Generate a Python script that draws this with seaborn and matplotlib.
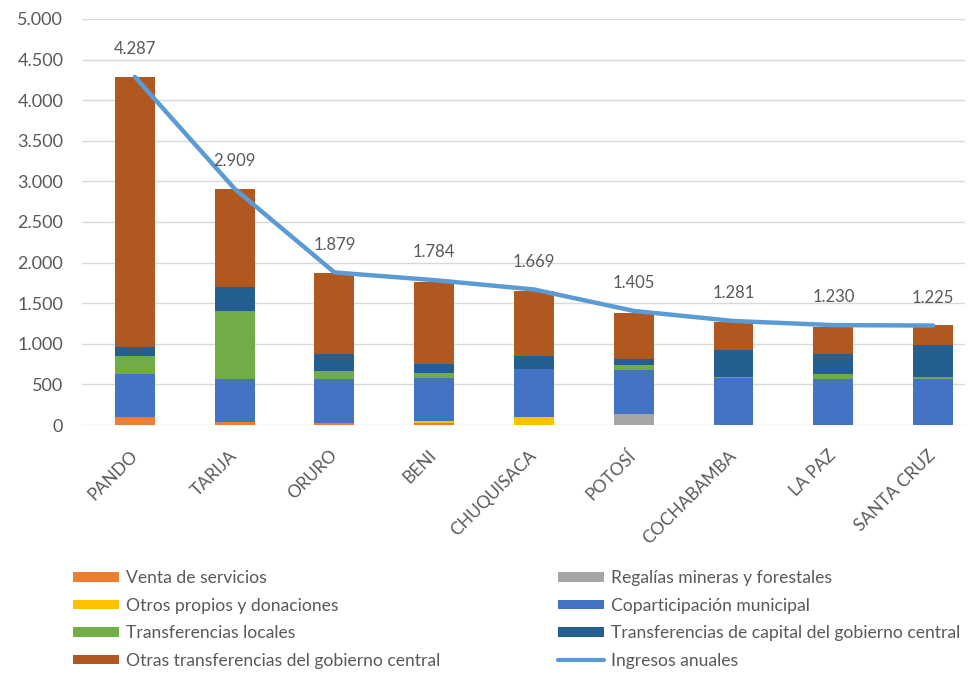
import numpy as np
import matplotlib
matplotlib.use("Agg")
import matplotlib.pyplot as plt
import seaborn as sns
from matplotlib.patches import Patch
from matplotlib.lines import Line2D
from matplotlib.ticker import FuncFormatter, MultipleLocator

# Ingresos municipales por departamento (millones de Bs)
categories = ["PANDO", "TARIJA", "ORURO", "BENI", "CHUQUISACA",
              "POTOSÍ", "COCHABAMBA", "LA PAZ", "SANTA CRUZ"]
venta_servicios = [100, 40, 30, 30, 0, 0, 0, 0, 0]
regalias = [0, 0, 0, 0, 0, 130, 0, 0, 0]
otros_propios = [0, 0, 0, 20, 100, 0, 0, 0, 0]
coparticipacion = [530, 530, 540, 526, 585, 547, 576, 564, 572]
transf_locales = [225, 840, 100, 62, 0, 62, 21, 66, 16]
transf_capital = [100, 285, 205, 115, 165, 70, 321, 242, 400]
otras_transf = [3330, 1210, 1000, 1004, 795, 576, 345, 330, 238]
ingresos_anuales = [4287, 2909, 1879, 1784, 1669, 1405, 1281, 1230, 1225]

series_names = ["Venta de servicios", "Regalías mineras y forestales",
                "Otros propios y donaciones", "Coparticipación municipal",
                "Transferencias locales",
                "Transferencias de capital del gobierno central",
                "Otras transferencias del gobierno central"]
series_values = [venta_servicios, regalias, otros_propios, coparticipacion,
                 transf_locales, transf_capital, otras_transf]
series_colors = ["#ED7D31", "#A5A5A5", "#FFC000", "#4472C4",
                 "#70AD47", "#255E91", "#B0581F"]
line_color = "#5B9BD5"
text_color = "#595959"

sns.set_theme(style="white")
plt.rcParams["font.family"] = ["Lato", "DejaVu Sans"]

fig = plt.figure(figsize=(9.74, 6.74), dpi=100)
W, H = 974, 674
ax = fig.add_axes([82 / W, 1 - 425 / H, (965 - 82) / W, (425 - 19) / H])

# stacked bars: draw cumulative totals from the top layer down
cum = np.cumsum(np.array(series_values), axis=0)
for i in range(len(series_values) - 1, -1, -1):
    sns.barplot(x=categories, y=cum[i], color=series_colors[i], width=0.4,
                saturation=1, linewidth=0, ax=ax, zorder=2)

xpos = np.arange(len(categories))
sns.lineplot(x=xpos, y=ingresos_anuales, color=line_color, linewidth=3.2,
             ax=ax, zorder=3)

for x, v in zip(xpos, ingresos_anuales):
    ax.annotate(f"{v:,}".replace(",", "."), (x, v), xytext=(0, 20),
                textcoords="offset points", ha="center", va="center",
                fontsize=12, color=text_color)

ax.set_ylim(0, 5000)
ax.set_xlim(-0.53, 8.32)
ax.yaxis.set_major_locator(MultipleLocator(500))
ax.yaxis.set_major_formatter(
    FuncFormatter(lambda v, p: f"{v:,.0f}".replace(",", ".")))
ax.yaxis.grid(True, color="#D9D9D9", linewidth=1)
ax.set_axisbelow(True)
for s in ax.spines.values():
    s.set_visible(False)
ax.set_xlabel("")
ax.set_ylabel("")
ax.tick_params(axis="y", length=0, pad=13.5, labelsize=13, labelcolor=text_color)
ax.tick_params(axis="x", length=0, pad=20, labelsize=12.5, labelcolor=text_color)
ax.set_xticks(xpos)
ax.set_xticklabels(categories, rotation=45, ha="right",
                   rotation_mode="anchor", va="center")

# legend in two columns, following the stacking order row by row
def patch(i):
    return Patch(facecolor=series_colors[i], edgecolor="none",
                 label=series_names[i])

left_handles = [patch(0), patch(2), patch(4), patch(6)]
right_handles = [patch(1), patch(3), patch(5),
                 Line2D([], [], color=line_color, linewidth=3,
                        label="Ingresos anuales")]
leg_kw = dict(frameon=False, loc="upper left", borderpad=0, borderaxespad=0,
              handlelength=2.6, handleheight=0.46, handletextpad=0.45,
              labelspacing=0.66, fontsize=12.6, labelcolor=text_color)
fig.legend(handles=left_handles, bbox_to_anchor=(73 / W, 1 - 570 / H), **leg_kw)
fig.legend(handles=right_handles, bbox_to_anchor=(558 / W, 1 - 570 / H), **leg_kw)

fig.savefig("out.png", dpi=100)
